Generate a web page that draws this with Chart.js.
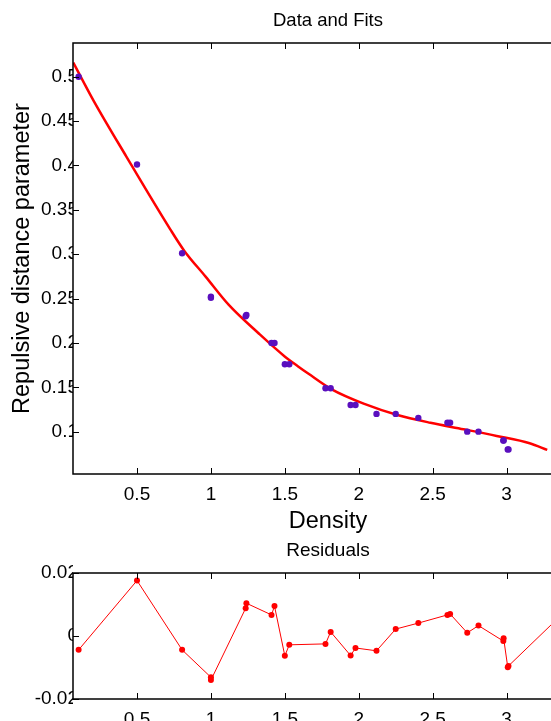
<!DOCTYPE html>
<html>
<head>
<meta charset="utf-8">
<script src="https://cdn.jsdelivr.net/npm/chart.js@4.4.1/dist/chart.umd.min.js"></script>
<style>
  html, body { margin: 0; padding: 0; overflow: hidden; background: #fff; }
  #fits { position: absolute; left: 0; top: 0; }
  #resid { position: absolute; left: 0; top: 530px; }
</style>
</head>
<body>
<canvas id="fits" width="587" height="540"></canvas>
<canvas id="resid" width="587" height="200"></canvas>
<script>
// measured data (density vs repulsive distance parameter)
const density = [0.105, 0.5, 0.805, 1.0, 1.0, 1.235, 1.24, 1.41, 1.43, 1.5, 1.53, 1.775, 1.81,
  1.945, 1.978, 2.12, 2.25, 2.403, 2.6, 2.618, 2.734, 2.81, 2.978, 2.98, 3.008, 3.013, 3.4];
const repulsive = [0.5, 0.401, 0.301, 0.252, 0.251, 0.23, 0.2315, 0.2, 0.2, 0.176, 0.176, 0.149, 0.149,
  0.13, 0.13, 0.12, 0.12, 0.1155, 0.11, 0.11, 0.1, 0.1, 0.09, 0.09, 0.08, 0.08, 0.091];
const residuals = [-0.0044, 0.0176, -0.0044, -0.0131, -0.014, 0.0088, 0.0104, 0.0067, 0.0095, -0.0063, -0.0028,
  -0.0025, 0.0013, -0.0062, -0.0038, -0.0047, 0.0022, 0.0041, 0.0067, 0.007, 0.001, 0.0033, -0.0016, -0.0007,
  -0.0099, -0.0095, 0.008];

// fitted curve
const fitX = [0.069, 0.203, 0.428, 0.725, 0.819, 0.964, 1.121, 1.322, 1.501, 1.59, 1.658, 1.814,
  2.038, 2.262, 2.485, 2.709, 2.933, 3.156, 3.275];
const fitY = [0.516, 0.474, 0.41, 0.328, 0.304, 0.2747, 0.2428, 0.2109, 0.1845, 0.1735, 0.1655, 0.148,
  0.1313, 0.1188, 0.11, 0.1027, 0.0952, 0.087, 0.0795];

// tick labels
const xTicks = [0.5, 1, 1.5, 2, 2.5, 3];
const yTicksFit = [0.1, 0.15, 0.2, 0.25, 0.3, 0.35, 0.4, 0.45, 0.5];
const yTicksRes = [-0.02, 0, 0.02];

const font = "'Liberation Sans', Arial, sans-serif";
Chart.defaults.color = "#000";
Chart.defaults.font.family = font;

// box round the axes with ticks pointing inwards
const matlabBox = {
  id: "matlabBox",
  afterDraw(chart) {
    const { ctx, chartArea: a, scales } = chart;
    ctx.save();
    ctx.strokeStyle = "#000";
    ctx.lineWidth = 1.5;
    ctx.strokeRect(a.left, a.top, a.right - a.left, a.bottom - a.top);
    ctx.lineWidth = 1;
    ctx.beginPath();
    scales.x.ticks.forEach((t) => {
      const px = Math.round(scales.x.getPixelForValue(t.value)) + 0.5;
      ctx.moveTo(px, a.bottom); ctx.lineTo(px, a.bottom - 6);
      ctx.moveTo(px, a.top); ctx.lineTo(px, a.top + 6);
    });
    scales.y.ticks.forEach((t) => {
      const py = Math.round(scales.y.getPixelForValue(t.value)) + 0.5;
      ctx.moveTo(a.left, py); ctx.lineTo(a.left + 6, py);
      ctx.moveTo(a.right, py); ctx.lineTo(a.right - 6, py);
    });
    ctx.stroke();
    ctx.restore();
  },
};

function xScale(height, withTitle) {
  return {
    type: "linear",
    min: 0.067,
    max: 3.517,
    grid: { display: false },
    border: { display: false },
    afterBuildTicks: (s) => { s.ticks = xTicks.map((v) => ({ value: v })); },
    afterFit: (s) => { s.height = height; },
    ticks: { font: { size: 19 }, padding: 1, maxRotation: 0, callback: (v) => String(v) },
    title: withTitle
      ? { display: true, text: "Density", font: { size: 23.5 }, padding: { top: 0, bottom: 4 } }
      : { display: false },
  };
}

function yScale(min, max, ticks, title) {
  return {
    type: "linear",
    min: min,
    max: max,
    grid: { display: false, drawTicks: false },
    border: { display: false },
    afterBuildTicks: (s) => { s.ticks = ticks.map((v) => ({ value: v })); },
    afterFit: (s) => { s.width = 73; },
    ticks: { font: { size: 19 }, padding: -5, callback: (v) => String(v) },
    title: title
      ? { display: true, text: title, font: { size: 23.5 }, padding: { top: 8, bottom: 0 } }
      : { display: false },
  };
}

const pointsFit = density.map((d, i) => ({ x: d, y: repulsive[i] }));
const curve = fitX.map((d, i) => ({ x: d, y: fitY[i] }));
const pointsRes = density.map((d, i) => ({ x: d, y: residuals[i] }));

new Chart(document.getElementById("fits"), {
  type: "scatter",
  data: {
    datasets: [
      {
        label: "data",
        data: pointsFit,
        pointRadius: 3.2,
        pointBackgroundColor: "#5a0fbe",
        pointBorderWidth: 0,
      },
      {
        label: "fit",
        data: curve,
        showLine: true,
        borderColor: "#ff0000",
        borderWidth: 2.5,
        pointRadius: 0,
        cubicInterpolationMode: "monotone",
      },
    ],
  },
  options: {
    responsive: false,
    animation: false,
    devicePixelRatio: 1,
    layout: { padding: 0 },
    plugins: {
      legend: { display: false },
      tooltip: { enabled: false },
      title: {
        display: true,
        fullSize: false,
        text: "Data and Fits",
        font: { size: 18.5, weight: "normal" },
        padding: { top: 10, bottom: 10.8 },
      },
    },
    scales: {
      x: xScale(540 - 474, true),
      y: yScale(0.0523, 0.538, yTicksFit, "Repulsive distance parameter"),
    },
  },
  plugins: [matlabBox],
});

new Chart(document.getElementById("resid"), {
  type: "scatter",
  data: {
    datasets: [
      {
        label: "residuals",
        data: pointsRes,
        showLine: true,
        borderColor: "#ff0000",
        borderWidth: 1,
        pointRadius: 3,
        pointBackgroundColor: "#ff0000",
        pointBorderWidth: 0,
      },
    ],
  },
  options: {
    responsive: false,
    animation: false,
    devicePixelRatio: 1,
    layout: { padding: 0 },
    plugins: {
      legend: { display: false },
      tooltip: { enabled: false },
      title: {
        display: true,
        fullSize: false,
        text: "Residuals",
        font: { size: 19, weight: "normal" },
        padding: { top: 9.6, bottom: 10.6 },
      },
    },
    scales: {
      x: xScale(200 - 169, false),
      y: yScale(-0.02, 0.02, yTicksRes, null),
    },
  },
  plugins: [matlabBox],
});
</script>
</body>
</html>
